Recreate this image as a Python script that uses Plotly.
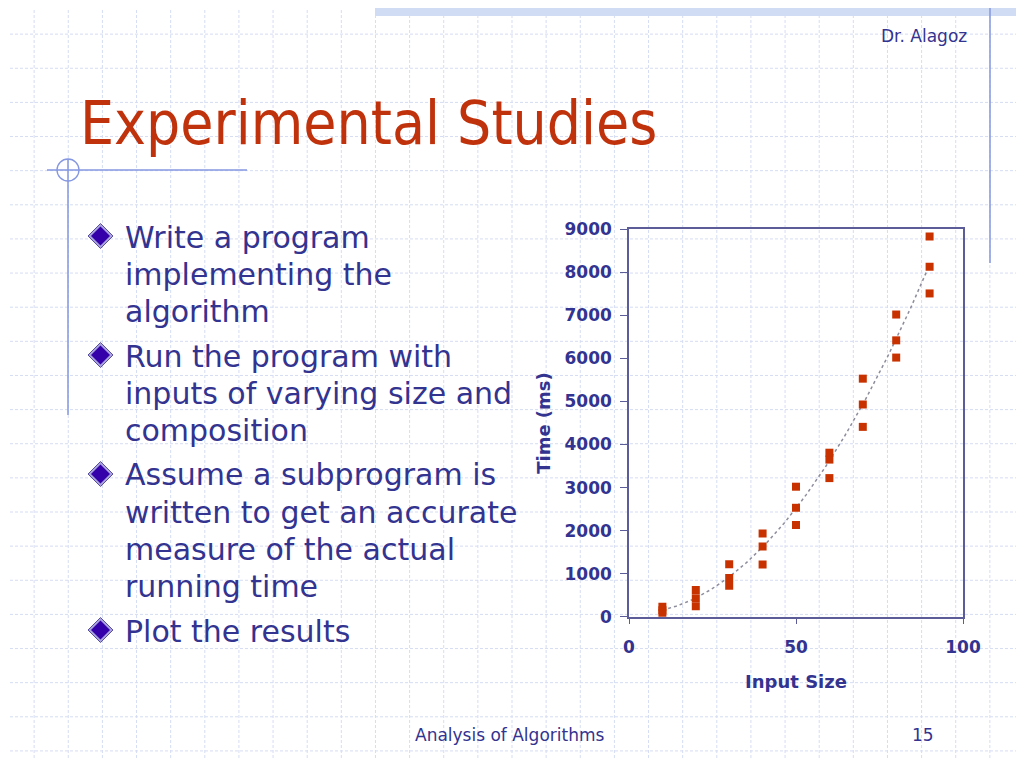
import numpy as np
import plotly.graph_objects as go

# ---------------- data ----------------
input_size = [10, 10, 10, 20, 20, 20, 30, 30, 30, 40, 40, 40, 50, 50, 50,
              60, 60, 60, 70, 70, 70, 80, 80, 80, 90, 90, 90]
time_ms = [80, 150, 230, 240, 430, 620, 720, 900, 1220, 1210, 1630, 1930,
           2130, 2530, 3020, 3220, 3650, 3810, 4410, 4930, 5530,
           6020, 6420, 7020, 7510, 8130, 8830]
x_ticks = [0, 50, 100]
y_ticks = [0, 1000, 2000, 3000, 4000, 5000, 6000, 7000, 8000, 9000]

title_text = "Experimental Studies"
bullets = [
    ["Write a program", "implementing the", "algorithm"],
    ["Run the program with", "inputs of varying size and", "composition"],
    ["Assume a subprogram is", "written to get an accurate",
     "measure of the actual", "running time"],
    ["Plot the results"],
]
header_text = "Dr. Alagoz"
footer_text = "Analysis of Algorithms"
page_number = "15"

# ---------------- helpers ----------------
PAGE_W, PAGE_H = 1024, 768
BODY_MARGIN = 8          # default page margin around the figure
W, H = PAGE_W - 2 * BODY_MARGIN, PAGE_H - 2 * BODY_MARGIN

def px(x):
    return (x - BODY_MARGIN) / W

def py(y):
    return 1 - (y - BODY_MARGIN) / H

TEXT_BLUE = "#333390"
LINE_BLUE = "#8597e0"
GRID = "#d6ddf3"
FONT = "DejaVu Sans"

# trendline (2nd-order polynomial fit of the data, like the spreadsheet trendline)
coef = np.polyfit(input_size, time_ms, 2)
tx = np.linspace(min(input_size), max(input_size), 120)
ty = np.polyval(coef, tx)

fig = go.Figure()
fig.add_trace(go.Scatter(x=tx, y=ty, mode="lines",
                         line=dict(color="#8c8c9c", width=1.5, dash="dot"),
                         hoverinfo="skip", showlegend=False))
fig.add_trace(go.Scatter(x=input_size, y=time_ms, mode="markers",
                         marker=dict(symbol="square", size=8, color="#c83200",
                                     line=dict(width=0)),
                         showlegend=False))

shapes = []
# slide background grid
for k in range(1, 30):
    x = px(k * PAGE_W / 30)
    shapes.append(dict(type="line", xref="paper", yref="paper", x0=x, x1=x,
                       y0=py(PAGE_H), y1=py(0),
                       line=dict(color=GRID, width=1, dash="3px,2px"), layer="below"))
for k in range(1, 23):
    y = py(k * PAGE_W / 30)
    shapes.append(dict(type="line", xref="paper", yref="paper", x0=px(0), x1=px(PAGE_W),
                       y0=y, y1=y,
                       line=dict(color=GRID, width=1, dash="3px,2px"), layer="below"))
# top band
shapes.append(dict(type="rect", xref="paper", yref="paper", x0=px(375), x1=px(PAGE_W),
                   y0=py(16), y1=py(0), fillcolor="#cfdcf3", line=dict(width=0),
                   layer="below"))
# right vertical rule
shapes.append(dict(type="line", xref="paper", yref="paper", x0=px(990), x1=px(990),
                   y0=py(263), y1=py(0), line=dict(color=LINE_BLUE, width=1.5),
                   layer="below"))
# left crosshair decoration
shapes.append(dict(type="line", xref="paper", yref="paper", x0=px(47), x1=px(247),
                   y0=py(170), y1=py(170), line=dict(color=LINE_BLUE, width=1.3),
                   layer="below"))
shapes.append(dict(type="line", xref="paper", yref="paper", x0=px(68), x1=px(68),
                   y0=py(415), y1=py(159), line=dict(color=LINE_BLUE, width=1.5),
                   layer="below"))
shapes.append(dict(type="circle", xref="paper", yref="paper", x0=px(57), x1=px(79),
                   y0=py(181), y1=py(159), line=dict(color=LINE_BLUE, width=1.3),
                   layer="below"))

annotations = []
# title
annotations.append(dict(text=title_text, xref="paper", yref="paper", x=px(78), y=py(123),
                        xanchor="left", yanchor="middle", showarrow=False,
                        font=dict(family="DejaVu Sans Condensed, DejaVu Sans", size=60,
                                  color="#c0320c")))
# header / footer
annotations.append(dict(text=header_text, xref="paper", yref="paper", x=px(969), y=py(36),
                        xanchor="right", yanchor="middle", showarrow=False,
                        font=dict(family=FONT, size=17, color=TEXT_BLUE)))
annotations.append(dict(text=footer_text, xref="paper", yref="paper", x=px(413), y=py(735),
                        xanchor="left", yanchor="middle", showarrow=False,
                        font=dict(family=FONT, size=17, color=TEXT_BLUE)))
annotations.append(dict(text=page_number, xref="paper", yref="paper", x=px(936), y=py(735),
                        xanchor="right", yanchor="middle", showarrow=False,
                        font=dict(family=FONT, size=17, color=TEXT_BLUE)))

# bullets
line_h = 37
y = 237
for group in bullets:
    cx, cy = 100.5, y - 1
    r_out, r_in = 12.5, 9.5
    shapes.append(dict(type="path", xref="paper", yref="paper",
                       path=f"M {px(cx - r_out)} {py(cy)} L {px(cx)} {py(cy - r_out)} "
                            f"L {px(cx + r_out)} {py(cy)} L {px(cx)} {py(cy + r_out)} Z",
                       fillcolor="#aaa2dc", line=dict(color="#5a50a0", width=1)))
    shapes.append(dict(type="path", xref="paper", yref="paper",
                       path=f"M {px(cx - r_in)} {py(cy)} L {px(cx)} {py(cy - r_in)} "
                            f"L {px(cx + r_in)} {py(cy)} L {px(cx)} {py(cy + r_in)} Z",
                       fillcolor="#3300aa", line=dict(width=0)))
    for line in group:
        annotations.append(dict(text=line, xref="paper", yref="paper", x=px(123), y=py(y),
                                xanchor="left", yanchor="middle", showarrow=False,
                                font=dict(family=FONT, size=30, color=TEXT_BLUE)))
        y += line_h
    y += 45 - line_h

axis_font = dict(family=FONT, size=17, color=TEXT_BLUE, weight="bold")
fig.update_layout(
    width=W, height=H,
    margin=dict(l=0, r=0, t=0, b=0),
    paper_bgcolor="white", plot_bgcolor="rgba(0,0,0,0)",
    shapes=shapes, annotations=annotations,
    xaxis=dict(domain=[px(629), px(963)], range=[0, 100], tickvals=x_ticks,
               showgrid=False, zeroline=False, showline=True, mirror=True,
               linecolor="#5c5c98", linewidth=1.5, ticks="outside", ticklen=6,
               tickcolor="#5c5c98", tickfont=axis_font, ticklabelstandoff=8,
               automargin=False,
               title=dict(text="Input Size", font=dict(family=FONT, size=18,
                                                       color=TEXT_BLUE, weight="bold"),
                          standoff=20)),
    yaxis=dict(domain=[py(616.7), py(229.3)], range=[0, 9000], tickvals=y_ticks,
               showgrid=False, zeroline=False, showline=True, mirror=True,
               linecolor="#5c5c98", linewidth=1.5, ticks="outside", ticklen=7,
               tickcolor="#5c5c98", tickfont=axis_font, ticklabelstandoff=5,
               automargin=False,
               title=dict(text="Time (ms)", font=dict(family=FONT, size=18,
                                                      color=TEXT_BLUE, weight="bold"),
                          standoff=9)),
)

fig.write_html("out.html", config={"displayModeBar": False})
